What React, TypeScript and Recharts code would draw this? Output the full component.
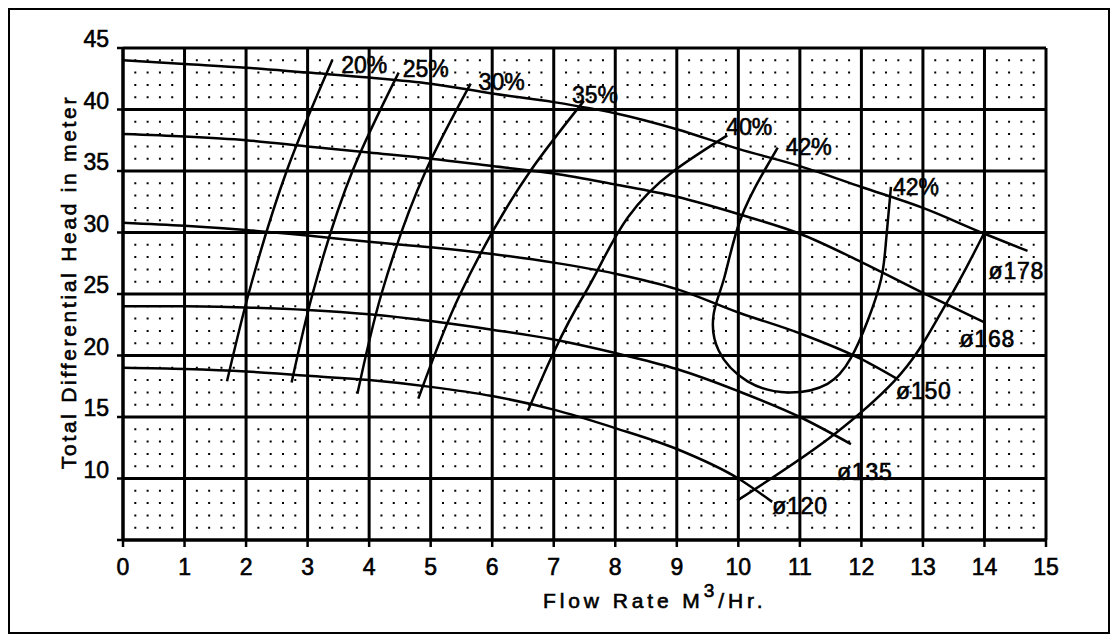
import { LineChart, Line, XAxis, YAxis, CartesianGrid, LabelList, ReferenceLine } from 'recharts'

type Pt = { q: number; h: number }

const flowTicks = [0, 1, 2, 3, 4, 5, 6, 7, 8, 9, 10, 11, 12, 13, 14, 15]
const headTicks = [5, 10, 15, 20, 25, 30, 35, 40, 45]
const minorFlowSteps = [0.2, 0.4, 0.6, 0.8]

// impeller diameter curves (head vs flow)
const dia178: Pt[] = [
   { q: 0, h: 44.0 }, { q: 1, h: 43.7 }, { q: 2, h: 43.4 }, { q: 3, h: 43.0 }, { q: 4, h: 42.6 },
   { q: 5, h: 42.1 }, { q: 6, h: 41.3 }, { q: 7, h: 40.6 }, { q: 8, h: 39.7 }, { q: 9, h: 38.4 },
   { q: 10, h: 36.8 }, { q: 11, h: 35.4 }, { q: 12, h: 33.7 }, { q: 13, h: 32.0 }, { q: 14, h: 29.9 },
   { q: 14.7, h: 28.5 },
]
const dia168: Pt[] = [
   { q: 0, h: 38.0 }, { q: 1, h: 37.8 }, { q: 2, h: 37.5 }, { q: 3, h: 37.0 }, { q: 4, h: 36.5 },
   { q: 5, h: 36.0 }, { q: 6, h: 35.4 }, { q: 7, h: 34.8 }, { q: 8, h: 33.9 }, { q: 9, h: 32.9 },
   { q: 10, h: 31.5 }, { q: 11, h: 29.9 }, { q: 12, h: 27.6 }, { q: 13, h: 25.1 }, { q: 14, h: 22.7 },
]
const dia150: Pt[] = [
   { q: 0, h: 30.8 }, { q: 1, h: 30.55 }, { q: 2, h: 30.2 }, { q: 3, h: 29.75 }, { q: 4, h: 29.25 },
   { q: 5, h: 28.8 }, { q: 6, h: 28.25 }, { q: 7, h: 27.55 }, { q: 8, h: 26.65 }, { q: 9, h: 25.4 },
   { q: 10, h: 23.5 }, { q: 11, h: 21.8 }, { q: 12, h: 19.7 }, { q: 12.58, h: 18.1 },
]
const dia135: Pt[] = [
   { q: 0, h: 24.0 }, { q: 1, h: 24.0 }, { q: 2, h: 23.9 }, { q: 3, h: 23.7 }, { q: 4, h: 23.35 },
   { q: 5, h: 22.8 }, { q: 6, h: 22.1 }, { q: 7, h: 21.3 }, { q: 8, h: 20.2 }, { q: 9, h: 18.9 },
   { q: 10, h: 17.1 }, { q: 11, h: 15.0 }, { q: 11.83, h: 12.8 },
]
const dia120: Pt[] = [
   { q: 0, h: 19.0 }, { q: 1, h: 18.9 }, { q: 2, h: 18.7 }, { q: 3, h: 18.35 }, { q: 4, h: 18.0 },
   { q: 5, h: 17.45 }, { q: 6, h: 16.7 }, { q: 7, h: 15.6 }, { q: 8, h: 14.1 }, { q: 9, h: 12.4 },
   { q: 10, h: 10.0 }, { q: 10.55, h: 8.1 },
]

// efficiency lines
const eff20: Pt[] = [{ q: 1.69, h: 17.9 }, { q: 2.04, h: 25 }, { q: 2.66, h: 35 }, { q: 3.4, h: 44.0 }]
const eff25: Pt[] = [{ q: 2.74, h: 17.8 }, { q: 3.08, h: 25 }, { q: 3.73, h: 35 }, { q: 4.48, h: 43.0 }]
const eff30: Pt[] = [{ q: 3.81, h: 16.9 }, { q: 4.2, h: 25 }, { q: 4.92, h: 35 }, { q: 5.65, h: 42.1 }]
const eff35: Pt[] = [{ q: 4.8, h: 16.5 }, { q: 5.48, h: 25 }, { q: 6.62, h: 35 }, { q: 7.49, h: 40.7 }]
const eff40: Pt[] = [{ q: 6.58, h: 15.5 }, { q: 7.5, h: 25 }, { q: 8.95, h: 35 }, { q: 9.82, h: 37.9 }]
const eff42: Pt[] = [
   { q: 10.64, h: 36.9 }, { q: 10.42, h: 35 }, { q: 10.03, h: 31 }, { q: 9.77, h: 26.3 },
   { q: 9.6, h: 23.4 }, { q: 9.68, h: 20.4 }, { q: 10.15, h: 17.9 }, { q: 10.8, h: 17.0 },
   { q: 11.45, h: 17.7 }, { q: 11.83, h: 19.8 }, { q: 12.1, h: 22.8 }, { q: 12.32, h: 26.2 },
   { q: 12.4, h: 29.3 }, { q: 12.48, h: 33.7 },
]

// rising limit curve
const limitCurve: Pt[] = [
   { q: 9.98, h: 8.2 }, { q: 11.56, h: 13.6 }, { q: 12.53, h: 17.9 }, { q: 13.4, h: 24.4 }, { q: 14, h: 30 },
]

const FONT = '"Liberation Sans", Arial, sans-serif'
const minorFlow = flowTicks.slice(0, -1).flatMap((t) => minorFlowSteps.map((s) => t + s))

const textStyle = { fontFamily: FONT, fill: '#000', stroke: '#000', strokeWidth: 0.6 }

const pointLabel = (text: string, at: number, dx: number, dy: number, spacing = 0) => (p: any) => {
   if (p.index !== at) return null
   const vb = p.viewBox || {}
   const x = (vb.x ?? p.x) + dx
   const y = (vb.y ?? p.y) + dy
   return (
      <text x={x} y={y} fontSize={23} letterSpacing={spacing} {...textStyle}>
         {text}
      </text>
   )
}

const curve = (data: Pt[], type: any = 'monotone') => ({
   data,
   dataKey: 'h',
   type,
   stroke: '#000',
   strokeWidth: 2.5,
   dot: false,
   activeDot: false,
   isAnimationActive: false,
})

const FlowTick = (p: any) => (
   <text x={p.x} y={p.y + 26} textAnchor="middle" fontSize={23} {...textStyle}>
      {p.payload.value}
   </text>
)

const HeadTick = (p: any) => {
   if (p.payload.value === 5) return <g />
   return (
      <text x={p.x - 6} y={p.y - 1} textAnchor="end" fontSize={23} {...textStyle}>
         {p.payload.value}
      </text>
   )
}

const FlowTitle = (p: any) => {
   const vb = p.viewBox
   return (
      <text x={vb.x + 420} y={vb.y + 68} fontSize={21} letterSpacing={3.9} {...textStyle}>
         Flow Rate M
         <tspan dy={-11} fontSize={19}>3</tspan>
         <tspan dy={11}>/Hr.</tspan>
      </text>
   )
}

const HeadTitle = () => (
   <text
      x={58}
      y={272}
      transform="rotate(-90 58 272)"
      textAnchor="middle"
      dominantBaseline="central"
      fontSize={21}
      letterSpacing={2.7}
      {...textStyle}
   >
      Total Differential Head in meter
   </text>
)

export default function App() {
   return (
      <div style={{ width: 1102, height: 626, border: '2px solid #000', boxSizing: 'border-box', background: '#fff' }}>
         <LineChart width={1098} height={622} margin={{ top: 38, right: 62, left: 0, bottom: 0 }}>
            {minorFlow.map((v) => (
               <ReferenceLine
                  key={v}
                  x={v}
                  stroke="#000"
                  strokeWidth={2}
                  strokeDasharray="2 10.3"
                  strokeDashoffset={1}
               />
            ))}
            <CartesianGrid stroke="#000" strokeWidth={3} />
            <XAxis
               dataKey="q"
               type="number"
               domain={[0, 15]}
               ticks={flowTicks}
               allowDataOverflow
               height={92}
               tickSize={7}
               tick={FlowTick}
               axisLine={{ stroke: '#000', strokeWidth: 3 }}
               tickLine={{ stroke: '#000', strokeWidth: 2.5 }}
               label={<FlowTitle />}
            />
            <YAxis
               dataKey="h"
               type="number"
               domain={[5, 45]}
               ticks={headTicks}
               allowDataOverflow
               width={113}
               tickSize={6}
               tick={HeadTick}
               axisLine={{ stroke: '#000', strokeWidth: 3 }}
               tickLine={{ stroke: '#000', strokeWidth: 2.5 }}
               label={<HeadTitle />}
            />

            <Line {...curve(dia178)}>
               <LabelList dataKey="h" content={pointLabel('ø178', dia178.length - 1, -39, 28, 0.8)} />
            </Line>
            <Line {...curve(dia168)}>
               <LabelList dataKey="h" content={pointLabel('ø168', dia168.length - 1, -25, 25, 0.8)} />
            </Line>
            <Line {...curve(dia150)}>
               <LabelList dataKey="h" content={pointLabel('ø150', dia150.length - 1, -1, 20, 0.8)} />
            </Line>
            <Line {...curve(dia135)}>
               <LabelList dataKey="h" content={pointLabel('ø135', dia135.length - 1, -14, 36, 0.8)} />
            </Line>
            <Line {...curve(dia120)}>
               <LabelList dataKey="h" content={pointLabel('ø120', dia120.length - 1, 0, 12, 0.8)} />
            </Line>

            <Line {...curve(eff20, 'monotoneY')}>
               <LabelList dataKey="h" content={pointLabel('20%', eff20.length - 1, 9, 13)} />
            </Line>
            <Line {...curve(eff25, 'monotoneY')}>
               <LabelList dataKey="h" content={pointLabel('25%', eff25.length - 1, 4, 4)} />
            </Line>
            <Line {...curve(eff30, 'monotoneY')}>
               <LabelList dataKey="h" content={pointLabel('30%', eff30.length - 1, 8, 6)} />
            </Line>
            <Line {...curve(eff35, 'monotoneY')}>
               <LabelList dataKey="h" content={pointLabel('35%', eff35.length - 1, -12, 2)} />
            </Line>
            <Line {...curve(eff40, 'monotoneY')}>
               <LabelList dataKey="h" content={pointLabel('40%', eff40.length - 1, -1, 0)} />
            </Line>
            <Line {...curve(eff42, 'natural')}>
               <LabelList dataKey="h" content={pointLabel('42%', 0, 8, 7)} />
               <LabelList dataKey="h" content={pointLabel('42%', eff42.length - 1, 2, 8)} />
            </Line>

            <Line {...curve(limitCurve, 'monotoneY')} />
         </LineChart>
      </div>
   )
}
